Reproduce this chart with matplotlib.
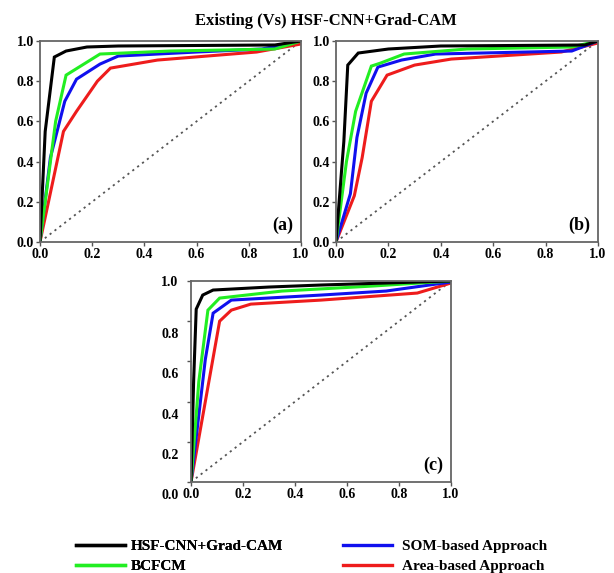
import matplotlib
matplotlib.use("Agg")
import matplotlib.pyplot as plt
from matplotlib.lines import Line2D
from matplotlib.transforms import ScaledTranslation

plt.rcParams['font.family'] = ['Liberation Serif', 'DejaVu Serif']
plt.rcParams['font.weight'] = 'bold'

title = "Existing (Vs) HSF-CNN+Grad-CAM"
series_names = ["HSF-CNN+Grad-CAM", "BCFCM", "SOM-based Approach", "Area-based Approach"]
series_colors = ["#000000", "#22ee22", "#1010ee", "#ee1c1c"]
panel_labels = ["(a)", "(b)", "(c)"]
ticks = [0.0, 0.2, 0.4, 0.6, 0.8, 1.0]
tick_labels = ["0.0", "0.2", "0.4", "0.6", "0.8", "1.0"]

# Panel (a)
a_hsf_fpr = [0, 0.02, 0.055, 0.10, 0.18, 0.30, 0.90, 1.0]
a_hsf_tpr = [0, 0.55, 0.92, 0.95, 0.97, 0.975, 0.98, 1.0]
a_bcf_fpr = [0, 0.06, 0.10, 0.23, 0.50, 0.90, 1.0]
a_bcf_tpr = [0, 0.60, 0.83, 0.935, 0.95, 0.96, 1.0]
a_som_fpr = [0, 0.04, 0.095, 0.14, 0.23, 0.30, 0.60, 0.85, 1.0]
a_som_tpr = [0, 0.42, 0.70, 0.81, 0.885, 0.925, 0.945, 0.96, 1.0]
a_area_fpr = [0, 0.09, 0.14, 0.22, 0.27, 0.45, 0.83, 1.0]
a_area_tpr = [0, 0.55, 0.65, 0.80, 0.865, 0.905, 0.945, 0.985]

# Panel (b)
b_hsf_fpr = [0, 0.03, 0.045, 0.085, 0.20, 0.40, 0.95, 1.0]
b_hsf_tpr = [0, 0.50, 0.88, 0.94, 0.96, 0.975, 0.98, 1.0]
b_bcf_fpr = [0, 0.04, 0.075, 0.135, 0.17, 0.26, 0.50, 0.90, 1.0]
b_bcf_tpr = [0, 0.40, 0.65, 0.875, 0.89, 0.935, 0.96, 0.97, 1.0]
b_som_fpr = [0, 0.055, 0.08, 0.115, 0.16, 0.25, 0.38, 0.90, 1.0]
b_som_tpr = [0, 0.24, 0.52, 0.74, 0.87, 0.905, 0.935, 0.95, 1.0]
b_area_fpr = [0, 0.07, 0.10, 0.135, 0.195, 0.30, 0.44, 0.86, 1.0]
b_area_tpr = [0, 0.23, 0.42, 0.70, 0.83, 0.88, 0.91, 0.945, 0.99]

# Panel (c)
c_hsf_fpr = [0, 0.01, 0.02, 0.045, 0.085, 0.30, 0.50, 1.0]
c_hsf_tpr = [0, 0.50, 0.86, 0.93, 0.955, 0.97, 0.98, 1.0]
c_bcf_fpr = [0, 0.03, 0.065, 0.11, 0.35, 0.70, 1.0]
c_bcf_tpr = [0, 0.50, 0.855, 0.915, 0.95, 0.975, 1.0]
c_som_fpr = [0, 0.055, 0.085, 0.155, 0.50, 0.75, 1.0]
c_som_tpr = [0, 0.61, 0.84, 0.905, 0.93, 0.95, 0.995]
c_area_fpr = [0, 0.11, 0.155, 0.23, 0.50, 0.87, 1.0]
c_area_tpr = [0, 0.80, 0.855, 0.885, 0.905, 0.94, 0.99]

diag = [0.0, 1.0]

panels = [
    [(a_hsf_fpr, a_hsf_tpr), (a_bcf_fpr, a_bcf_tpr), (a_som_fpr, a_som_tpr), (a_area_fpr, a_area_tpr)],
    [(b_hsf_fpr, b_hsf_tpr), (b_bcf_fpr, b_bcf_tpr), (b_som_fpr, b_som_tpr), (b_area_fpr, b_area_tpr)],
    [(c_hsf_fpr, c_hsf_tpr), (c_bcf_fpr, c_bcf_tpr), (c_som_fpr, c_som_tpr), (c_area_fpr, c_area_tpr)],
]

fig = plt.figure(figsize=(6.14, 5.73), dpi=100)
rects = [
    [0.0651, 0.5777, 0.4251, 0.3508],
    [0.5472, 0.5777, 0.4267, 0.3508],
    [0.3111, 0.1588, 0.4235, 0.3508],
]

axes = []
for rect, curves, plab in zip(rects, panels, panel_labels):
    ax = fig.add_axes(rect)
    ax.plot(diag, diag, linestyle=(0, (1.2, 2.2)), color="#555555", linewidth=1.3)
    for (fx, ty), col in zip(curves[::-1], series_colors[::-1]):
        ax.plot(fx, ty, color=col, linewidth=2.2, solid_joinstyle='miter')
    ax.set_xlim(0, 1)
    ax.set_ylim(0, 1)
    ax.set_xticks(ticks)
    ax.set_yticks(ticks)
    ax.set_xticklabels(tick_labels, fontsize=10, fontweight='bold')
    ax.set_yticklabels(tick_labels, fontsize=10, fontweight='bold')
    ax.tick_params(direction='out', length=3, width=1, color="#555555", pad=1.5)
    for sp in ax.spines.values():
        sp.set_color("#666666")
        sp.set_linewidth(1.3)
    ax.text(0.97, 0.04, plab, transform=ax.transAxes, ha='right', va='bottom',
            fontsize=13, fontweight='bold')
    axes.append(ax)

# In panel (c) the y tick labels below 1.0 sit slightly lower than their ticks
axes[2].tick_params(axis='y', pad=6)
shift = ScaledTranslation(0, -0.12, fig.dpi_scale_trans)
for lab in axes[2].get_yticklabels()[:-1]:
    lab.set_transform(lab.get_transform() + shift)

fig.text(0.531, 0.963, title, ha='center', va='center', fontsize=12, fontweight='bold')

handles = [Line2D([], [], color=c, linewidth=2.4) for c in series_colors]
leg1 = fig.legend(handles[:2], series_names[:2], loc='upper left',
                  bbox_to_anchor=(0.1238, 0.059), frameon=False,
                  handlelength=3.2, handletextpad=0.4, labelspacing=0.42,
                  borderpad=0.0, borderaxespad=0.0,
                  prop={'weight': 'bold', 'size': 11})
fig.add_artist(leg1)
leg2 = fig.legend(handles[2:], series_names[2:], loc='upper left',
                  bbox_to_anchor=(0.5586, 0.059), frameon=False,
                  handlelength=3.2, handletextpad=0.65, labelspacing=0.42,
                  borderpad=0.0, borderaxespad=0.0,
                  prop={'weight': 'bold', 'size': 11})

fig.savefig("out.png", dpi=100)
